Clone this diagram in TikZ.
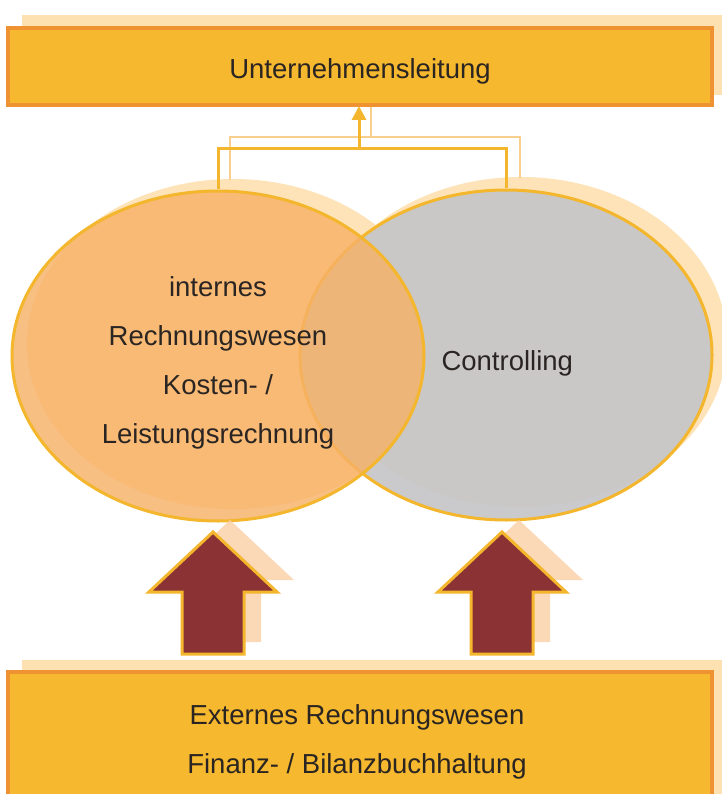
\documentclass[tikz,border=0pt]{standalone}
\usepackage{fontspec}
\setmainfont{Liberation Sans}
\usetikzlibrary{shapes.geometric,arrows.meta}
\definecolor{boxfill}{HTML}{F5B82E}
\definecolor{boxedge}{HTML}{EE9232}
\definecolor{shade}{HTML}{FDE1B0}
\definecolor{ellorange}{HTML}{F7B167}
\definecolor{ellgray}{HTML}{C6C6C8}
\definecolor{gold}{HTML}{F3B62C}
\definecolor{goldlight}{HTML}{F9CF8E}
\definecolor{arrred}{HTML}{8B3234}
\definecolor{arrshade}{HTML}{FBD0A4}
\definecolor{txt}{HTML}{2A2522}
\begin{document}
\begin{tikzpicture}[x=1pt,y=-1pt,
  bigfont/.style={font=\fontsize{27.5}{49}\selectfont, text=txt},
  mainbox/.style={draw=boxedge, line width=4pt, fill=boxfill, rectangle, inner sep=0pt, bigfont},
  shadebox/.style={fill=shade, draw=none},
  ell/.style={ellipse, draw=gold, line width=3pt, minimum width=412pt, minimum height=330pt, inner sep=0pt},
  ellshade/.style={ellipse, fill=shade, fill opacity=0.9, minimum width=412pt, minimum height=330pt, inner sep=0pt},
  conn/.style={draw=gold, line width=3pt},
  connshade/.style={draw=goldlight, line width=2pt},
  blockarrow/.style={fill=arrred, draw=gold, line width=3pt, line join=miter},
  arrowshade/.style={fill=arrshade, fill opacity=0.8}
]
\useasboundingbox (0,0) rectangle (721,794);
\fill[white] (0,0) rectangle (721,794);

% top box
\fill[shadebox] (22,15) rectangle (725,95);
\node[mainbox, minimum width=704pt, minimum height=77pt] (top) at (360,66.5) {};
\node[bigfont] (toptext) at (360,71) {Unternehmensleitung};

% ellipse shadows
\node[ellshade] (Ls) at (233,344) {};
\node[ellshade] (Rs) at (521,342) {};
% ellipses
\node[ell, fill=ellgray, fill opacity=0.92] (R) at (506,355) {};
\node[ell, fill=ellorange, fill opacity=0.82] (L) at (218,356) {};

\node[bigfont, align=center] (Ltext) at (218,363) {internes\\Rechnungswesen\\Kosten- /\\Leistungsrechnung};
\node[bigfont, anchor=west] (Rtext) at (438,363) {Controlling};

% connector shadows
\coordinate (js) at (371,137);
\coordinate (lsa) at (230,180);
\coordinate (rsa) at (520,178);
\draw[connshade] (lsa) |- (js) -| (rsa);
\draw[connshade] (js) -- (js |- top.south);

% connectors
\coordinate (j) at (359,149);
\draw[conn] (L.north) |- (j) -| (R.north);
\draw[conn, -{Triangle[length=14pt,width=14pt]}] (j) -- ([yshift=1pt]j |- top.south);

% bottom box
\fill[shadebox] (22,660) rectangle (725,800);
\node[mainbox, minimum width=704pt, minimum height=130pt] (bot) at (360,737) {};
\node[bigfont, align=center] (bottext) at (357,742)
  {Externes Rechnungswesen\\Finanz- / Bilanzbuchhaltung};

% block arrows (shadows)
\foreach \cx in {213,502}{
  \fill[arrowshade] (\cx+17,520) -- (\cx+81,580) -- (\cx+48,580) -- (\cx+48,642) -- (\cx-14,642) -- (\cx-14,580) -- (\cx-47,580) -- cycle;
}
% block arrows
\foreach \cx in {213,502}{
  \draw[blockarrow] (\cx,532) -- (\cx+64,592) -- (\cx+31,592) -- (\cx+31,654) -- (\cx-31,654) -- (\cx-31,592) -- (\cx-64,592) -- cycle;
}
\end{tikzpicture}
\end{document}
